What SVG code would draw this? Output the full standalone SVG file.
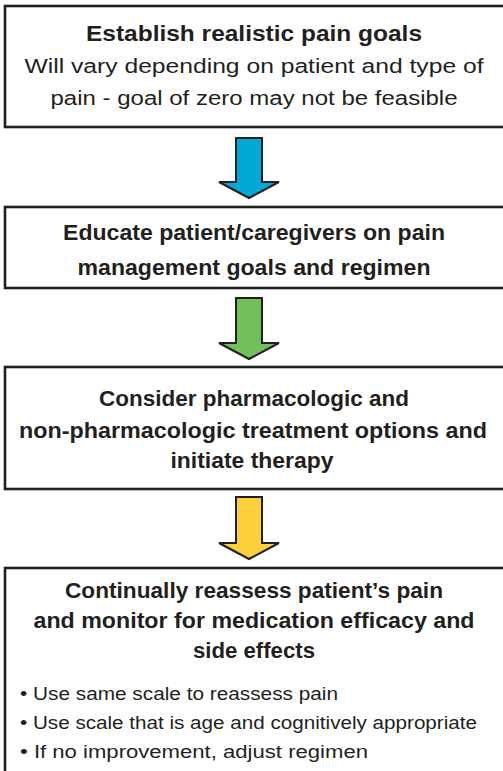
<svg xmlns="http://www.w3.org/2000/svg" width="503" height="771" viewBox="0 0 503 771">
<style>
.box{fill:#ffffff;stroke:#231f20;stroke-width:2.6}
.arrow{stroke:#231f20;stroke-width:2;stroke-linejoin:miter}
text{font-family:"Liberation Sans",Arial,sans-serif;fill:#231f20}
.b{font-weight:bold;font-size:22px;text-anchor:middle}
.r{font-size:20px;text-anchor:middle}
.l{font-size:17.5px}
</style>
<rect width="503" height="771" fill="#ffffff"/>
<g id="connectors">
<path class="arrow" fill="#00a9d6" d="M236,138 H262 V182 H279 L249,198 L219,182 H236 Z"/>
<path class="arrow" fill="#72c05b" d="M236,298 H262 V343 H279 L249,359 L219,343 H236 Z"/>
<path class="arrow" fill="#fcd03a" d="M236,497 H262 V543 H279 L249,559 L219,543 H236 Z"/>
</g>
<g id="node1">
<rect class="box" x="5" y="6" width="505" height="121"/>
<text class="b" x="254" y="41" textLength="336" lengthAdjust="spacingAndGlyphs">Establish realistic pain goals</text>
<text class="r" x="254" y="73" textLength="459" lengthAdjust="spacingAndGlyphs">Will vary depending on patient and type of</text>
<text class="r" x="254" y="105" textLength="407" lengthAdjust="spacingAndGlyphs">pain - goal of zero may not be feasible</text>
</g>
<g id="node2">
<rect class="box" x="5" y="207" width="505" height="81"/>
<text class="b" x="254" y="240" textLength="382" lengthAdjust="spacingAndGlyphs">Educate patient/caregivers on pain</text>
<text class="b" x="254" y="275" textLength="353" lengthAdjust="spacingAndGlyphs">management goals and regimen</text>
</g>
<g id="node3">
<rect class="box" x="5" y="367" width="505" height="122"/>
<text class="b" x="254" y="406" textLength="310" lengthAdjust="spacingAndGlyphs">Consider pharmacologic and</text>
<text class="b" x="253" y="438" textLength="468" lengthAdjust="spacingAndGlyphs">non-pharmacologic treatment options and</text>
<text class="b" x="252" y="468" textLength="163" lengthAdjust="spacingAndGlyphs">initiate therapy</text>
</g>
<g id="node4">
<rect class="box" x="5" y="568" width="505" height="215"/>
<text class="b" x="254" y="598" textLength="378" lengthAdjust="spacingAndGlyphs">Continually reassess patient’s pain</text>
<text class="b" x="254" y="628" textLength="441" lengthAdjust="spacingAndGlyphs">and monitor for medication efficacy and</text>
<text class="b" x="254" y="658" textLength="122" lengthAdjust="spacingAndGlyphs">side effects</text>
<text class="l" x="20" y="700" textLength="318" lengthAdjust="spacingAndGlyphs">• Use same scale to reassess pain</text>
<text class="l" x="20" y="729" textLength="457" lengthAdjust="spacingAndGlyphs">• Use scale that is age and cognitively appropriate</text>
<text class="l" x="20" y="758" textLength="348" lengthAdjust="spacingAndGlyphs">• If no improvement, adjust regimen</text>
</g>
</svg>
